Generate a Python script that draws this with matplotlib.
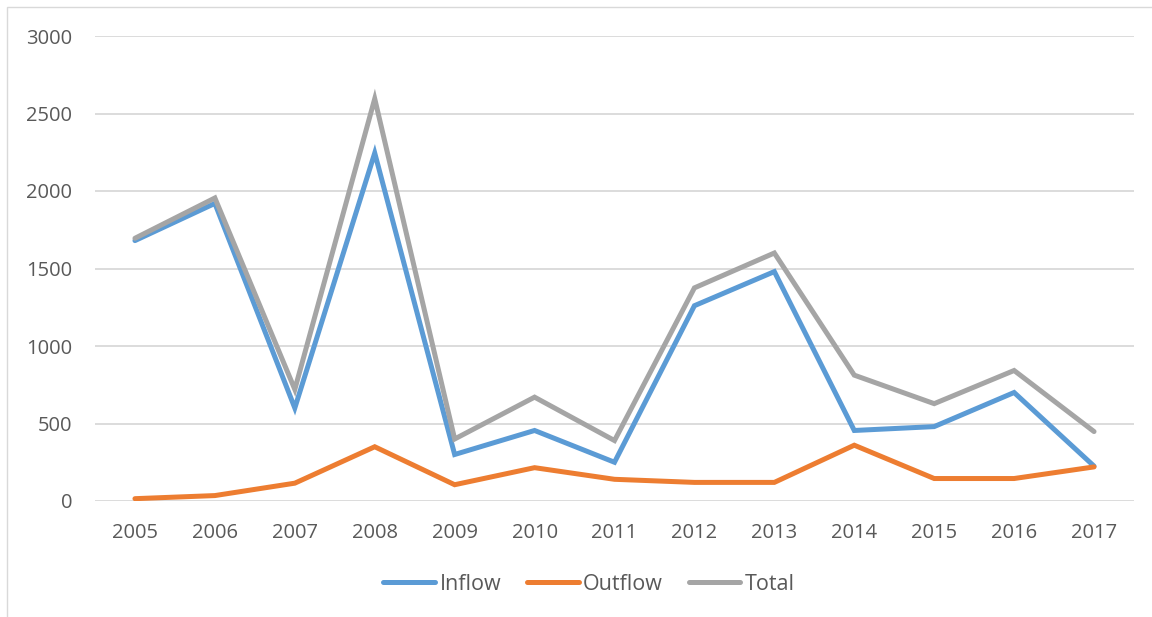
import matplotlib
matplotlib.use("Agg")
import matplotlib.pyplot as plt
from matplotlib.patches import Rectangle

years = ["2005", "2006", "2007", "2008", "2009", "2010", "2011",
         "2012", "2013", "2014", "2015", "2016", "2017"]
inflow = [1680, 1920, 600, 2245, 300, 455, 250, 1260, 1480, 455, 480, 700, 225]
outflow = [15, 35, 115, 350, 105, 215, 140, 120, 120, 360, 145, 145, 220]
total = [1695, 1955, 720, 2595, 400, 670, 390, 1375, 1600, 812, 628, 842, 448]
yticks = [0, 500, 1000, 1500, 2000, 2500, 3000]

W, H = 1152, 617
fig = plt.figure(figsize=(W / 100, H / 100), dpi=100)
fig.patch.set_facecolor("white")

# chart-area border (light gray, top and left visible)
fig.add_artist(Rectangle((7 / W, -0.05), 1.2, (H - 7) / H + 0.05,
                         transform=fig.transFigure, fill=False,
                         edgecolor="#D9D9D9", linewidth=1.0))

ax = fig.add_axes([95 / W, (H - 501) / H, (1134 - 95) / W, (501 - 36) / H])
x = list(range(len(years)))
col_in, col_out, col_tot = "#5B9BD5", "#ED7D31", "#A5A5A5"
ax.plot(x, inflow, color=col_in, lw=3.6, solid_capstyle="round",
        solid_joinstyle="miter", label="Inflow", zorder=3)
ax.plot(x, outflow, color=col_out, lw=3.6, solid_capstyle="round",
        solid_joinstyle="miter", label="Outflow", zorder=4)
ax.plot(x, total, color=col_tot, lw=3.6, solid_capstyle="round",
        solid_joinstyle="miter", label="Total", zorder=5)

ax.set_xlim(-0.5, len(years) - 0.5)
ax.set_ylim(0, 3000)
ax.set_yticks(yticks)
ax.set_yticklabels([str(v) for v in yticks])
ax.set_xticks(x)
ax.set_xticklabels(years)
for s in ax.spines.values():
    s.set_visible(False)
ax.grid(axis="y", color="#D9D9D9", linewidth=1.3)
ax.set_axisbelow(True)
ax.tick_params(axis="both", length=0, labelsize=14.5, labelcolor="#595959")
ax.tick_params(axis="y", pad=16.5)
ax.tick_params(axis="x", pad=16)
for lab in ax.get_xticklabels() + ax.get_yticklabels():
    lab.set_fontfamily("Open Sans")

leg = ax.legend(loc="center", bbox_to_anchor=(589 / W, (H - 584) / H),
                bbox_transform=fig.transFigure, ncol=3, frameon=False,
                prop={"family": "Open Sans", "size": 15.5},
                handlelength=2.4, handletextpad=0.2, columnspacing=1.2)
for t in leg.get_texts():
    t.set_color("#595959")

fig.savefig("out.png", dpi=100, facecolor="white")
